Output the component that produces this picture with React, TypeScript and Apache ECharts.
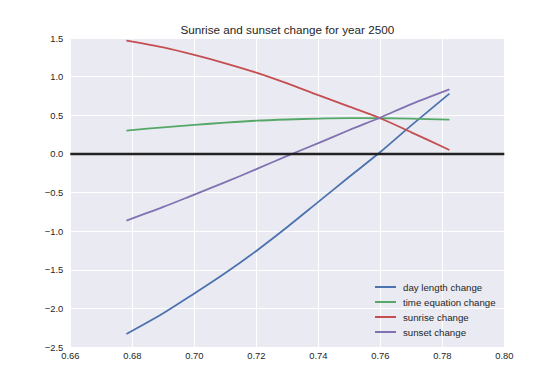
import React, { useEffect, useRef } from "react";
import * as echarts from "echarts";

const xValues = [0.6781, 0.69, 0.70, 0.71, 0.72, 0.73, 0.74, 0.75, 0.76, 0.77, 0.7823];
const dayLength = [-2.328, -2.06, -1.805, -1.54, -1.254, -0.945, -0.62, -0.295, 0.025, 0.37, 0.78];
const timeEquation = [0.302, 0.345, 0.376, 0.405, 0.43, 0.446, 0.458, 0.463, 0.462, 0.456, 0.444];
const sunrise = [1.466, 1.378, 1.281, 1.173, 1.052, 0.912, 0.76, 0.612, 0.462, 0.28, 0.052];
const sunset = [-0.862, -0.685, -0.525, -0.365, -0.197, -0.025, 0.14, 0.31, 0.472, 0.645, 0.835];
const seriesNames = ["day length change", "time equation change", "sunrise change", "sunset change"];
const colors = ["#4C72B0", "#55A868", "#C44E52", "#8172B2"];
const zeroLine = [[0.66, 0], [0.8, 0]];

const FONT = "'Liberation Sans', Arial, sans-serif";

export default function App() {
  const ref = useRef<HTMLDivElement>(null);
  useEffect(() => {
    if (!ref.current) return;
    const chart = echarts.init(ref.current, undefined, { renderer: "svg" });
    const all = [dayLength, timeEquation, sunrise, sunset];
    const series: any[] = all.map((vals, i) => ({
      name: seriesNames[i],
      type: "line",
      data: xValues.map((x, j) => [x, vals[j]]),
      smooth: 0.3,
      symbol: "none",
      lineStyle: { color: colors[i], width: 1.8 },
      itemStyle: { color: colors[i] },
      z: 3,
    }));
    series.push({
      name: "zero",
      type: "line",
      data: zeroLine,
      symbol: "none",
      lineStyle: { color: "#222222", width: 2.5 },
      z: 4,
    });
    chart.setOption({
      animation: false,
      textStyle: { fontFamily: FONT },
      grid: {
        left: 70.3,
        right: 55.7,
        top: 38,
        bottom: 37.75,
        show: true,
        backgroundColor: "#EAEAF2",
        borderWidth: 0,
      },
      graphic: [
        {
          type: "text",
          x: 287.3,
          y: 29,
          style: {
            text: "Sunrise and sunset change for year 2500",
            fontSize: 11.7,
            fontFamily: FONT,
            fill: "#262626",
            textAlign: "center",
            textVerticalAlign: "middle",
          },
        },
      ],
      legend: {
        data: seriesNames,
        orient: "vertical",
        left: 375,
        top: 281,
        padding: 0,
        icon: "rect",
        itemWidth: 21,
        itemHeight: 2,
        itemGap: 3,
        textStyle: { fontSize: 9.7, color: "#262626", fontFamily: FONT, lineHeight: 12, padding: [0, 0, 0, 2] },
      },
      xAxis: {
        type: "value",
        min: 0.66,
        max: 0.8,
        interval: 0.02,
        axisLine: { show: false },
        axisTick: { show: false },
        splitLine: { show: true, lineStyle: { color: "#FFFFFF", width: 1 } },
        axisLabel: {
          color: "#262626",
          fontSize: 9.4,
          fontFamily: FONT,
          margin: 4,
          formatter: (v: number) => v.toFixed(2),
        },
      },
      yAxis: {
        type: "value",
        min: -2.5,
        max: 1.5,
        interval: 0.5,
        axisLine: { show: false },
        axisTick: { show: false },
        splitLine: { show: true, lineStyle: { color: "#FFFFFF", width: 1 } },
        axisLabel: {
          color: "#262626",
          fontSize: 9.4,
          fontFamily: FONT,
          margin: 7,
          formatter: (v: number) => v.toFixed(1).replace("-", "\u2212"),
        },
      },
      series,
    });
    return () => chart.dispose();
  }, []);
  return <div ref={ref} style={{ position: "absolute", left: 0, top: 0, width: 560, height: 385 }} />;
}
